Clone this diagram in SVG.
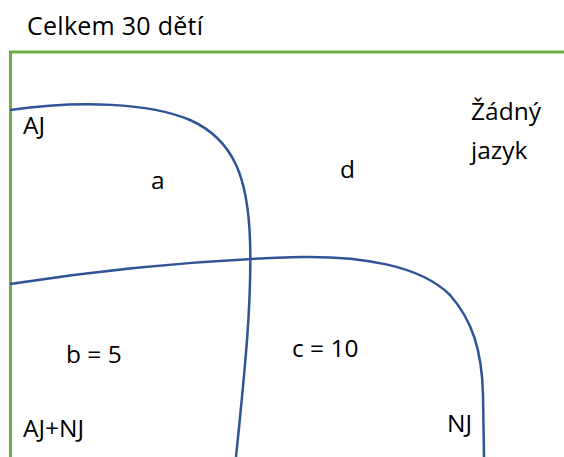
<svg xmlns="http://www.w3.org/2000/svg" width="564" height="457" viewBox="0 0 564 457">
<style>
.t{font-family:"Open Sans","Liberation Sans",sans-serif;font-size:24.5px;fill:#000}
.set{fill:none;stroke:#2F5597;stroke-width:2.5}
.frame{fill:none;stroke:#70AD47;stroke-width:3}
</style>
<rect width="564" height="457" fill="#fff"/>
<g id="universe">
<path class="frame" d="M10.5,457 L10.5,52 L564,52"/>
<text class="t" x="27" y="35" style="font-size:25px" textLength="176">Celkem 30 dětí</text>
<text class="t" x="471" y="120" textLength="70">Žádný</text>
<text class="t" x="471" y="159">jazyk</text>
<text class="t" x="340" y="178">d</text>
</g>
<g id="setAJ">
<path class="set" d="M10,110 C80,100 150,103 190,120 C235,140 248,180 250,240 C252,300 245,370 236,457"/>
<text class="t" x="23" y="134">AJ</text>
<text class="t" x="151" y="189">a</text>
</g>
<g id="setNJ">
<path class="set" d="M10,284 C100,270 200,260 300,257 C360,256 420,265 450,295 C472,320 482,350 483,395 L484,457"/>
<text class="t" x="447" y="432">NJ</text>
<text class="t" x="292" y="357">c = 10</text>
</g>
<g id="intersection">
<text class="t" x="66" y="363">b = 5</text>
<text class="t" x="23" y="437">AJ+NJ</text>
</g>
</svg>
